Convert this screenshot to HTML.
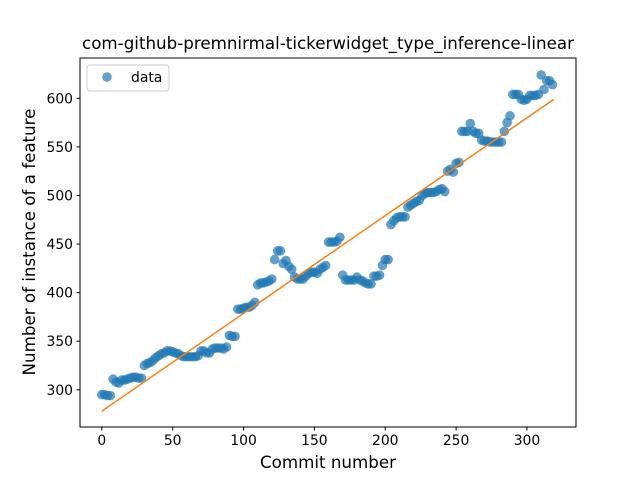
<!DOCTYPE html>
<html><head><meta charset="utf-8"><style>
body{margin:0;background:#fff}
svg{display:block;font-family:"DejaVu Sans","Liberation Sans",sans-serif}
</style></head><body>
<svg id="chart" width="640" height="480">
<rect width="640" height="480" fill="#fff"/>
<text x="328" y="49" text-anchor="middle" font-size="16.7" fill="#000">com-github-premnirmal-tickerwidget_type_inference-linear</text>
<g id="plot"></g>
<rect x="80" y="58" width="496" height="369" fill="none" stroke="#000" stroke-width="1"/>
<g id="ticks" font-size="13.9" fill="#000"></g>
<text x="328" y="468" text-anchor="middle" font-size="16.7">Commit number</text>
<text transform="translate(35,242) rotate(-90)" text-anchor="middle" font-size="16.7">Number of instance of a feature</text>
<g>
<rect x="87" y="65" width="82" height="26" rx="3" fill="#fff" fill-opacity="0.8" stroke="#ccc"/>
<circle cx="107" cy="77" r="4.8" fill="#1f77b4" fill-opacity="0.7"/>
<text x="131" y="82" font-size="13.9">data</text>
</g>
</svg>
<script>
const commitStep = 2;
const values = [295,295,294,294,311,308,307,310,310,311,312,313,313,312,312,325,327,328,330,333,335,337,338,340,340,339,338,337,335,334,334,334,334,334,335,340,340,338,338,342,343,343,343,342,344,356,355,355,383,383,384,385,385,387,390,408,410,410,411,412,414,434,443,443,430,433,427,424,416,414,414,414,417,420,421,421,420,424,426,428,452,452,452,453,457,418,413,413,413,413,416,413,412,410,409,409,417,417,418,428,434,434,470,474,477,478,478,478,488,490,492,494,495,500,502,503,503,503,504,506,507,504,525,527,524,533,534,566,566,566,574,566,564,564,557,556,556,555,555,555,555,555,566,575,582,604,604,604,599,598,599,603,603,603,604,624,609,618,618,614];
const fitX = [0, 319];
const fitY = [278, 599];
const xTicks = [0,50,100,150,200,250,300];
const yTicks = [300,350,400,450,500,550,600];

const X0=80,X1=576,Y0=427,Y1=58;
const xmin=-15.4,xmax=334.6,ymin=261.7,ymax=641.5;
function sx(v){return X0+(v-xmin)/(xmax-xmin)*(X1-X0);}
function sy(v){return Y0-(v-ymin)/(ymax-ymin)*(Y0-Y1);}
const NS="http://www.w3.org/2000/svg";
const plot=document.getElementById('plot');
values.forEach((v,i)=>{
  const c=document.createElementNS(NS,'circle');
  c.setAttribute('cx',sx(i*commitStep));c.setAttribute('cy',sy(v));
  c.setAttribute('r',4.8);c.setAttribute('fill','#1f77b4');c.setAttribute('fill-opacity','0.7');
  
  
  plot.appendChild(c);
});
const ln=document.createElementNS(NS,'line');
ln.setAttribute('x1',sx(fitX[0]));ln.setAttribute('y1',sy(fitY[0]));
ln.setAttribute('x2',sx(fitX[1]));ln.setAttribute('y2',sy(fitY[1]));
ln.setAttribute('stroke','#ff7f0e');ln.setAttribute('stroke-width','1.5');


plot.appendChild(ln);
const tg=document.getElementById('ticks');
xTicks.forEach(t=>{
  const l=document.createElementNS(NS,'line');
  l.setAttribute('x1',sx(t));l.setAttribute('x2',sx(t));l.setAttribute('y1',Y0);l.setAttribute('y2',Y0+3.5);l.setAttribute('stroke','#000');
  
  
  tg.appendChild(l);
  const s=document.createElementNS(NS,'text');
  s.setAttribute('x',sx(t));s.setAttribute('y',Y0+18);s.setAttribute('text-anchor','middle');s.textContent=t;
  
  
  tg.appendChild(s);
});
yTicks.forEach(t=>{
  const l=document.createElementNS(NS,'line');
  l.setAttribute('x1',X0-3.5);l.setAttribute('x2',X0);l.setAttribute('y1',sy(t));l.setAttribute('y2',sy(t));l.setAttribute('stroke','#000');
  
  
  tg.appendChild(l);
  const s=document.createElementNS(NS,'text');
  s.setAttribute('x',X0-7);s.setAttribute('y',sy(t)+5);s.setAttribute('text-anchor','end');s.textContent=t;
  
  
  tg.appendChild(s);
});
</script>
</body></html>
